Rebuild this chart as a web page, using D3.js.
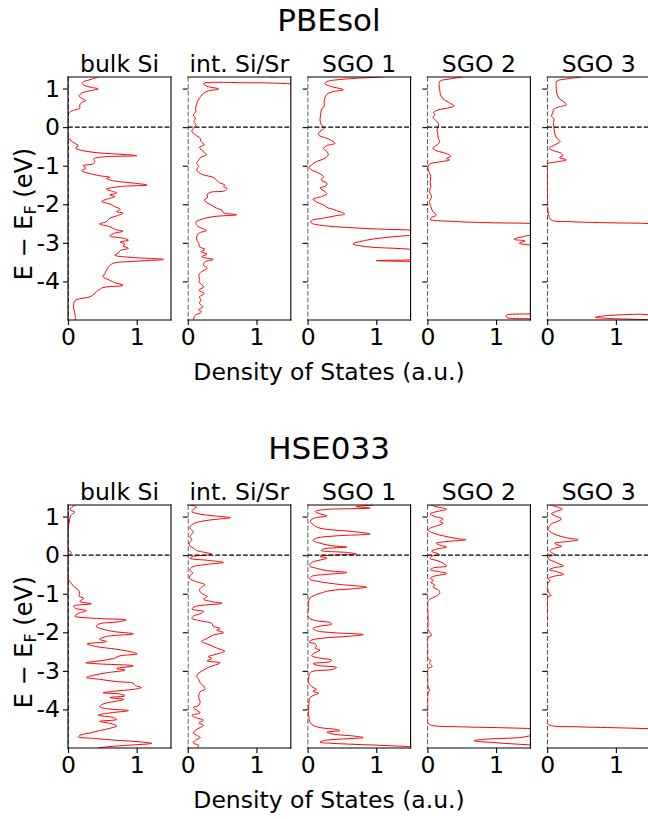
<!DOCTYPE html>
<html>
<head>
<meta charset="utf-8">
<script src="https://cdn.jsdelivr.net/npm/d3@7"></script>
<style>
body { margin: 0; background: #fff; }
svg { display: block; }
text { font-family: "DejaVu Sans", sans-serif; fill: #000; }
</style>
</head>
<body>
<div id="chart"></div>
<script>
const methods = ["PBEsol", "HSE033"];
const panelTitles = ["bulk Si", "int. Si/Sr", "SGO 1", "SGO 2", "SGO 3"];
const yTicks = [1, 0, -1, -2, -3, -4];
const xTicks = [0, 1];

// [energy (eV), DOS (a.u.)], top to bottom
const pbeBulkSi = [[1.30,0.44],[1.23,0.32],[1.16,0.21],[1.10,0.22],[1.04,0.32],[0.99,0.44],[0.94,0.31],[0.88,0.20],[0.81,0.16],[0.74,0.21],[0.69,0.26],[0.64,0.20],[0.57,0.17],[0.49,0.17],[0.45,0.10],[0.38,0.02],[0.28,0],[-0.24,0],[-0.33,0.03],[-0.42,0.10],[-0.48,0.15],[-0.54,0.11],[-0.59,0.17],[-0.66,0.41],[-0.72,0.90],[-0.74,1.0],[-0.78,0.46],[-0.83,0.37],[-0.89,0.39],[-0.95,0.37],[-1.00,0.22],[-1.06,0.26],[-1.13,0.20],[-1.19,0.29],[-1.26,0.46],[-1.30,0.61],[-1.33,0.56],[-1.39,0.66],[-1.45,0.95],[-1.50,1.15],[-1.54,0.76],[-1.61,0.56],[-1.67,0.66],[-1.71,0.71],[-1.76,0.61],[-1.80,0.68],[-1.87,0.56],[-1.93,0.49],[-1.99,0.61],[-2.06,0.68],[-2.13,0.76],[-2.19,0.71],[-2.23,0.80],[-2.30,0.71],[-2.36,0.61],[-2.45,0.56],[-2.51,0.46],[-2.58,0.61],[-2.65,0.68],[-2.70,0.80],[-2.75,0.68],[-2.82,0.61],[-2.88,0.80],[-2.93,0.88],[-2.98,0.76],[-3.03,0.83],[-3.08,0.80],[-3.14,0.88],[-3.20,0.76],[-3.27,0.73],[-3.32,0.68],[-3.38,0.95],[-3.43,1.39],[-3.48,0.95],[-3.53,0.66],[-3.62,0.59],[-3.71,0.56],[-3.79,0.54],[-3.88,0.51],[-3.97,0.61],[-4.03,0.68],[-4.10,0.80],[-4.16,0.51],[-4.23,0.44],[-4.31,0.39],[-4.40,0.32],[-4.45,0.17],[-4.50,0.10],[-4.66,0.08],[-4.83,0.10],[-5.00,0.11]];
const pbeIntSiSr = [[1.30,1.2],[1.28,2.0],[1.17,2.0],[1.15,1.0],[1.13,0.23],[1.06,0.28],[0.99,0.45],[0.94,0.30],[0.88,0.23],[0.80,0.19],[0.73,0.16],[0.67,0.14],[0.58,0.13],[0.49,0.11],[0.41,0.12],[0.32,0.08],[0.23,0.11],[0.15,0.09],[0.06,0.12],[-0.03,0.08],[-0.11,0.06],[-0.20,0.11],[-0.29,0.18],[-0.37,0.19],[-0.46,0.24],[-0.52,0.17],[-0.59,0.20],[-0.72,0.27],[-0.78,0.19],[-0.85,0.16],[-0.94,0.13],[-1.02,0.16],[-1.09,0.13],[-1.18,0.16],[-1.24,0.23],[-1.30,0.37],[-1.37,0.42],[-1.44,0.46],[-1.50,0.54],[-1.54,0.52],[-1.58,0.57],[-1.65,0.54],[-1.68,0.35],[-1.71,0.30],[-1.76,0.28],[-1.82,0.29],[-1.89,0.24],[-1.96,0.28],[-2.03,0.35],[-2.10,0.42],[-2.16,0.50],[-2.22,0.52],[-2.27,0.71],[-2.32,0.37],[-2.39,0.20],[-2.46,0.12],[-2.54,0.13],[-2.62,0.20],[-2.68,0.27],[-2.75,0.16],[-2.84,0.13],[-2.93,0.13],[-3.01,0.16],[-3.10,0.17],[-3.17,0.25],[-3.23,0.19],[-3.29,0.28],[-3.36,0.20],[-3.43,0.37],[-3.49,0.25],[-3.58,0.23],[-3.66,0.28],[-3.75,0.20],[-3.84,0.16],[-3.92,0.17],[-4.03,0.17],[-4.14,0.23],[-4.23,0.16],[-4.31,0.24],[-4.40,0.17],[-4.48,0.19],[-4.57,0.17],[-4.66,0.22],[-4.73,0.16],[-4.79,0.20],[-4.88,0.11],[-4.99,0.08]];
const pbeSgo1 = [[1.30,1.10],[1.25,0.57],[1.18,0.28],[1.13,0.25],[1.06,0.33],[0.97,0.52],[0.92,0.37],[0.85,0.28],[0.75,0.25],[0.67,0.24],[0.54,0.24],[0.45,0.20],[0.32,0.19],[0.19,0.18],[0.06,0.20],[-0.03,0.24],[-0.11,0.18],[-0.20,0.16],[-0.29,0.28],[-0.37,0.37],[-0.42,0.40],[-0.48,0.28],[-0.55,0.23],[-0.63,0.28],[-0.72,0.30],[-0.83,0.23],[-0.89,0.13],[-0.98,0.06],[-1.04,0.02],[-1.11,0.06],[-1.19,0.16],[-1.28,0.23],[-1.37,0.20],[-1.45,0.28],[-1.52,0.27],[-1.58,0.18],[-1.67,0.25],[-1.73,0.28],[-1.80,0.20],[-1.87,0.08],[-1.94,0.13],[-2.02,0.23],[-2.08,0.28],[-2.16,0.42],[-2.25,0.54],[-2.30,0.40],[-2.36,0.23],[-2.42,0.06],[-2.48,0.05],[-2.54,0.18],[-2.60,0.57],[-2.65,1.15],[-2.68,1.64],[-2.75,1.9],[-2.84,1.25],[-2.93,0.86],[-3.03,0.66],[-3.10,0.86],[-3.20,1.64],[-3.36,1.9],[-3.43,1.64],[-3.46,1.00],[-3.49,1.64],[-3.55,2.2],[-4.20,2.4],[-5.00,2.2]];
const pbeSgo2 = [[1.30,0.51],[1.25,0.33],[1.19,0.18],[1.10,0.17],[0.97,0.18],[0.84,0.19],[0.73,0.23],[0.64,0.31],[0.55,0.39],[0.49,0.28],[0.45,0.16],[0.38,0.09],[0.32,0.11],[0.26,0.08],[0.19,0.11],[0.10,0.16],[0.02,0.16],[-0.07,0.14],[-0.16,0.15],[-0.29,0.16],[-0.37,0.18],[-0.46,0.14],[-0.55,0.08],[-0.61,0.13],[-0.66,0.23],[-0.72,0.32],[-0.76,0.34],[-0.81,0.28],[-0.85,0.32],[-0.90,0.18],[-0.95,0.04],[-1.02,0.01],[-1.15,0.02],[-1.28,0.05],[-1.41,0.04],[-1.54,0.05],[-1.67,0.03],[-1.80,0.06],[-1.93,0.03],[-2.06,0.05],[-2.19,0.08],[-2.28,0.13],[-2.34,0.06],[-2.39,0.04],[-2.44,0.33],[-2.48,0.96],[-2.50,1.55],[-2.56,1.9],[-2.74,1.8],[-2.80,1.50],[-2.91,1.26],[-2.95,1.42],[-3.01,1.34],[-3.06,1.52],[-3.12,1.9],[-4.00,2.1],[-4.80,1.9],[-4.84,1.5],[-4.88,1.15],[-4.93,1.15],[-4.97,1.50],[-5.00,1.9]];
const pbeSgo3 = [[1.30,0.50],[1.25,0.28],[1.19,0.14],[1.06,0.13],[0.88,0.14],[0.75,0.17],[0.67,0.23],[0.58,0.28],[0.52,0.16],[0.45,0.09],[0.36,0.08],[0.29,0.06],[0.21,0.10],[0.10,0.09],[-0.03,0.10],[-0.16,0.11],[-0.29,0.14],[-0.37,0.19],[-0.46,0.11],[-0.55,0.03],[-0.61,0.09],[-0.68,0.21],[-0.74,0.23],[-0.79,0.18],[-0.85,0.28],[-0.90,0.14],[-0.95,0.01],[-1.11,0.005],[-1.71,0.005],[-2.15,0.01],[-2.32,0.03],[-2.41,0.06],[-2.45,0.33],[-2.48,0.91],[-2.50,1.5],[-2.56,1.9],[-3.50,2.1],[-4.80,1.9],[-4.85,1.3],[-4.89,0.85],[-4.93,0.70],[-4.96,0.91],[-5.00,1.7]];
const hseBulkSi = [[1.30,0.11],[1.25,0.06],[1.18,0.03],[1.11,0.10],[1.05,0.05],[0.99,0.03],[0.87,0.02],[0.79,0.01],[0.66,0],[0.14,0],[0.07,0.05],[0.0,0.02],[-0.08,0],[-0.64,0.01],[-0.73,0.05],[-0.81,0.08],[-0.90,0.15],[-0.99,0.17],[-1.06,0.16],[-1.12,0.23],[-1.20,0.17],[-1.26,0.34],[-1.32,0.08],[-1.38,0.11],[-1.44,0.27],[-1.51,0.15],[-1.58,0.10],[-1.64,0.41],[-1.68,0.85],[-1.73,0.73],[-1.78,0.46],[-1.85,0.41],[-1.92,0.51],[-1.98,0.66],[-2.04,0.95],[-2.11,0.56],[-2.18,0.46],[-2.24,0.56],[-2.30,0.28],[-2.37,0.41],[-2.44,0.71],[-2.50,0.90],[-2.56,1.01],[-2.61,0.76],[-2.68,0.66],[-2.74,0.46],[-2.79,0.26],[-2.82,0.46],[-2.87,0.95],[-2.94,0.71],[-2.98,0.83],[-3.05,0.56],[-3.11,0.39],[-3.17,0.27],[-3.22,0.46],[-3.28,0.71],[-3.32,0.95],[-3.38,0.98],[-3.43,1.07],[-3.48,0.95],[-3.53,0.66],[-3.57,0.51],[-3.60,0.76],[-3.65,0.83],[-3.69,0.61],[-3.74,0.81],[-3.80,0.66],[-3.86,0.51],[-3.93,0.46],[-3.98,0.56],[-4.03,0.88],[-4.09,0.61],[-4.15,0.44],[-4.21,0.66],[-4.26,0.71],[-4.31,0.46],[-4.36,0.61],[-4.43,0.71],[-4.49,0.61],[-4.55,0.46],[-4.61,0.32],[-4.67,0.17],[-4.71,0.15],[-4.75,0.37],[-4.80,0.71],[-4.84,1.05],[-4.88,1.22],[-4.92,0.95],[-4.97,0.56],[-5.00,0.44]];
const hseIntSiSr = [[1.30,0.03],[1.25,0.13],[1.19,0.08],[1.13,0.06],[1.07,0.16],[1.02,0.37],[0.97,0.62],[0.94,0.47],[0.87,0.18],[0.79,0.06],[0.70,0.03],[0.61,0.08],[0.55,0.06],[0.48,0.03],[0.40,0.06],[0.31,0.02],[0.24,0.03],[0.18,0.08],[0.12,0.13],[0.07,0.25],[0.03,0.35],[0.0,0.27],[-0.03,0.08],[-0.08,0.03],[-0.14,0.33],[-0.19,0.52],[-0.24,0.28],[-0.31,0.06],[-0.38,0.03],[-0.47,0.07],[-0.54,0.03],[-0.61,0.03],[-0.68,0.11],[-0.77,0.25],[-0.83,0.20],[-0.90,0.17],[-0.99,0.20],[-1.07,0.28],[-1.14,0.23],[-1.20,0.33],[-1.25,0.50],[-1.29,0.28],[-1.33,0.11],[-1.40,0.06],[-1.46,0.23],[-1.52,0.18],[-1.58,0.08],[-1.64,0.06],[-1.70,0.18],[-1.77,0.35],[-1.84,0.37],[-1.90,0.47],[-1.94,0.42],[-2.01,0.52],[-2.07,0.37],[-2.16,0.28],[-2.24,0.20],[-2.30,0.28],[-2.37,0.37],[-2.44,0.47],[-2.49,0.54],[-2.55,0.45],[-2.59,0.37],[-2.63,0.30],[-2.68,0.35],[-2.74,0.28],[-2.79,0.47],[-2.85,0.40],[-2.91,0.30],[-2.98,0.23],[-3.06,0.16],[-3.15,0.13],[-3.22,0.16],[-3.31,0.18],[-3.39,0.23],[-3.48,0.25],[-3.54,0.18],[-3.63,0.16],[-3.71,0.16],[-3.80,0.18],[-3.89,0.16],[-3.95,0.08],[-4.02,0.13],[-4.09,0.18],[-4.15,0.06],[-4.21,0.11],[-4.28,0.23],[-4.35,0.16],[-4.41,0.23],[-4.47,0.18],[-4.54,0.11],[-4.61,0.08],[-4.67,0.13],[-4.73,0.18],[-4.80,0.11],[-4.87,0.08],[-4.93,0.16],[-5.00,0.13]];
const hseSgo1 = [[1.30,0.96],[1.26,0.71],[1.22,0.91],[1.18,0.23],[1.13,0.11],[1.07,0.18],[1.02,0.28],[0.95,0.08],[0.87,0.04],[0.79,0.08],[0.70,0.18],[0.61,0.67],[0.55,0.91],[0.50,0.42],[0.44,0.13],[0.38,0.08],[0.31,0.18],[0.24,0.37],[0.21,0.57],[0.16,0.23],[0.12,0.20],[0.07,0.57],[0.03,0.71],[0.0,0.37],[-0.03,0.18],[-0.08,0.28],[-0.12,0.20],[-0.19,0.06],[-0.28,0.03],[-0.34,0.13],[-0.40,0.28],[-0.45,0.57],[-0.50,0.28],[-0.55,0.06],[-0.62,0.03],[-0.69,0.18],[-0.76,0.47],[-0.83,0.86],[-0.87,0.67],[-0.92,0.33],[-0.99,0.18],[-1.06,0.08],[-1.12,0.03],[-1.25,0.01],[-1.42,0.01],[-1.55,0],[-1.64,0.03],[-1.70,0.13],[-1.75,0.33],[-1.79,0.35],[-1.84,0.18],[-1.90,0.08],[-1.96,0.13],[-2.01,0.37],[-2.06,0.81],[-2.10,0.62],[-2.15,0.23],[-2.20,0.06],[-2.25,0.02],[-2.30,0.11],[-2.35,0.13],[-2.41,0.11],[-2.46,0.18],[-2.51,0.13],[-2.56,0.08],[-2.61,0.06],[-2.67,0.18],[-2.72,0.35],[-2.76,0.33],[-2.81,0.08],[-2.86,0.16],[-2.91,0.42],[-2.96,0.37],[-3.01,0.08],[-3.06,0.03],[-3.15,0.02],[-3.28,0.01],[-3.41,0.06],[-3.48,0.13],[-3.53,0.08],[-3.58,0.16],[-3.64,0.08],[-3.71,0.03],[-3.84,0.02],[-4.02,0.01],[-4.19,0.02],[-4.32,0.03],[-4.41,0.08],[-4.47,0.18],[-4.52,0.42],[-4.55,0.47],[-4.59,0.28],[-4.64,0.37],[-4.69,0.67],[-4.73,0.81],[-4.76,0.57],[-4.81,0.23],[-4.85,0.18],[-4.88,0.37],[-4.93,1.05],[-4.97,1.54],[-5.00,1.8]];
const hseSgo2 = [[1.30,0.04],[1.25,0.14],[1.19,0.28],[1.13,0.14],[1.07,0.04],[1.00,0.11],[0.94,0.23],[0.87,0.18],[0.83,0.23],[0.76,0.14],[0.70,0.04],[0.64,0.01],[0.57,0.09],[0.50,0.23],[0.43,0.43],[0.40,0.56],[0.36,0.33],[0.31,0.13],[0.26,0.18],[0.21,0.28],[0.16,0.14],[0.10,0.06],[0.05,0.14],[0.01,0.18],[-0.03,0.06],[-0.09,0.04],[-0.14,0.14],[-0.21,0.23],[-0.28,0.28],[-0.33,0.09],[-0.38,0.04],[-0.43,0.18],[-0.48,0.28],[-0.54,0.11],[-0.60,0.04],[-0.66,0.09],[-0.71,0.05],[-0.78,0.11],[-0.83,0.08],[-0.90,0.16],[-0.99,0.18],[-1.06,0.13],[-1.12,0.06],[-1.18,0.01],[-1.33,0.005],[-1.71,0.01],[-1.94,0.01],[-2.03,0.05],[-2.08,0.06],[-2.13,0.01],[-2.46,0.005],[-2.68,0.01],[-2.74,0.05],[-2.79,0.03],[-2.84,0.05],[-2.89,0.07],[-2.94,0.01],[-3.15,0.005],[-3.41,0.01],[-3.50,0.03],[-3.58,0.01],[-3.93,0.005],[-4.36,0.01],[-4.42,0.09],[-4.45,0.48],[-4.48,1.20],[-4.50,1.54],[-4.55,1.9],[-4.62,1.9],[-4.68,1.52],[-4.73,1.34],[-4.77,0.86],[-4.81,0.68],[-4.86,0.96],[-4.92,1.49],[-4.97,1.9],[-5.00,1.9]];
const hseSgo3 = [[1.30,0.04],[1.25,0.14],[1.19,0.22],[1.14,0.14],[1.07,0.06],[1.00,0.14],[0.94,0.21],[0.87,0.14],[0.81,0.06],[0.74,0.03],[0.66,0.01],[0.59,0.06],[0.52,0.14],[0.45,0.28],[0.40,0.45],[0.35,0.28],[0.31,0.11],[0.26,0.16],[0.23,0.21],[0.17,0.09],[0.12,0.04],[0.07,0.06],[0.02,0.11],[-0.03,0.04],[-0.09,0.01],[-0.16,0.09],[-0.23,0.18],[-0.28,0.24],[-0.33,0.09],[-0.38,0.03],[-0.43,0.14],[-0.50,0.24],[-0.55,0.09],[-0.61,0.01],[-0.66,0.04],[-0.73,0.01],[-0.90,0.01],[-0.99,0.03],[-1.04,0.06],[-1.09,0.01],[-1.25,0.005],[-4.36,0.005],[-4.42,0.06],[-4.45,0.43],[-4.48,1.11],[-4.50,1.47],[-4.55,1.9],[-5.00,1.9]];

const dosData = [
  [pbeBulkSi, pbeIntSiSr, pbeSgo1, pbeSgo2, pbeSgo3],
  [hseBulkSi, hseIntSiSr, hseSgo1, hseSgo2, hseSgo3]
];

const width = 648, height = 819;
const panelW = 103, panelH = 243;
const panelLeft = [68, 187.8, 307.6, 427.4, 547.2];
const rowTop = [77, 505];
const fs = 23.5;

const svg = d3.select("#chart")
  .append("svg")
  .attr("width", width)
  .attr("height", height);

const x = d3.scaleLinear().domain([0, 1.5]).range([0, panelW]);
const y = d3.scaleLinear().domain([-5, 1.3]).range([panelH, 0]);

const line = d3.line()
  .x(d => x(d[1]))
  .y(d => y(d[0]))
  .curve(d3.curveCatmullRom.alpha(0.5));

svg.append("defs")
  .append("clipPath")
  .attr("id", "panel-clip")
  .append("rect")
  .attr("width", panelW)
  .attr("height", panelH);

methods.forEach((method, r) => {
  const top = rowTop[r];

  svg.append("text")
    .attr("x", 329)
    .attr("y", top - 46)
    .attr("text-anchor", "middle")
    .style("font-size", "31px")
    .text(method);

  panelTitles.forEach((title, c) => {
    let g = svg.append("g")
      .attr("transform", "translate(" + panelLeft[c] + "," + top + ")");

    g.append("text")
      .attr("x", panelW / 2)
      .attr("y", -5)
      .attr("text-anchor", "middle")
      .style("font-size", fs + "px")
      .text(title);

    let plot = g.append("g").attr("clip-path", "url(#panel-clip)");

    plot.append("line")
      .attr("x1", x(0)).attr("x2", x(0))
      .attr("y1", 0).attr("y2", panelH)
      .attr("stroke", "#000")
      .attr("stroke-width", 1.3)
      .attr("stroke-dasharray", "4.8,2.1");

    plot.append("path")
      .datum(dosData[r][c])
      .attr("d", line)
      .attr("fill", "none")
      .attr("stroke", "#ff0000")
      .attr("stroke-width", 1);

    plot.append("line")
      .attr("x1", 0).attr("x2", panelW)
      .attr("y1", y(0)).attr("y2", y(0))
      .attr("stroke", "#000")
      .attr("stroke-width", 1.3)
      .attr("stroke-dasharray", "4.8,2.1");

    // spines: the left one only on the first panel
    let spines = [[0, 0, panelW, 0], [panelW, 0, panelW, panelH], [0, panelH, panelW, panelH]];
    if (c === 0) spines.push([0, 0, 0, panelH]);
    g.selectAll(".spine")
      .data(spines)
      .enter()
      .append("line")
      .attr("x1", d => d[0]).attr("y1", d => d[1])
      .attr("x2", d => d[2]).attr("y2", d => d[3])
      .attr("stroke", "#000")
      .attr("stroke-width", 1.1)
      .attr("stroke-linecap", "square");

    let yAxis = g.append("g")
      .call(d3.axisLeft(y)
        .tickValues(yTicks)
        .tickSize(5)
        .tickPadding(3)
        .tickFormat(d => c === 0 ? String(d) : ""));
    yAxis.select(".domain").remove();

    let xAxis = g.append("g")
      .attr("transform", "translate(0," + panelH + ")")
      .call(d3.axisBottom(x)
        .tickValues(xTicks)
        .tickSize(5)
        .tickPadding(3)
        .tickFormat(d => String(d)));
    xAxis.select(".domain").remove();

    svg.selectAll(".tick line").attr("stroke-width", 1.1);
    svg.selectAll(".tick text")
      .style("font-family", "'DejaVu Sans', sans-serif")
      .style("font-size", fs + "px")
      .attr("fill", "#000");
  });

  svg.append("text")
    .attr("x", 329)
    .attr("y", top + panelH + 60)
    .attr("text-anchor", "middle")
    .style("font-size", fs + "px")
    .text("Density of States (a.u.)");

  let ylab = svg.append("text")
    .attr("transform", "translate(32," + (top + 137) + ") rotate(-90)")
    .attr("text-anchor", "middle")
    .style("font-size", "24px");
  ylab.append("tspan").text("E \u2212 E");
  ylab.append("tspan").attr("dy", 4).style("font-size", "16px").text("F");
  ylab.append("tspan").attr("dy", -4).text(" (eV)");
});
</script>
</body>
</html>
